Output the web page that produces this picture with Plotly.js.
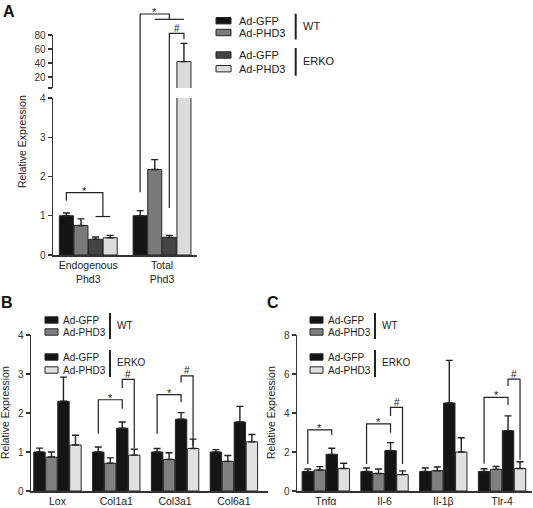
<!DOCTYPE html>
<html><head><meta charset="utf-8">
<script src="https://cdn.plot.ly/plotly-3.0.1.min.js"></script>
<style>body{margin:0;background:#fff}#chart{width:533px;height:508px}</style>
</head><body><div id="chart"></div>
<script>
// ---------------- DATA ----------------
const seriesNames = ['Ad-GFP', 'Ad-PHD3', 'Ad-GFP', 'Ad-PHD3'];
const groupNames = ['WT', 'ERKO'];

// Panel A
const catsA = ['Endogenous<br>Phd3', 'Total<br>Phd3'];
const aWtGfp = [1.00, 1.00];   const aWtGfpErr = [0.07, 0.13];
const aWtPhd3 = [0.75, 2.18];  const aWtPhd3Err = [0.17, 0.25];
const aKoGfp = [0.40, 0.45];   const aKoGfpErr = [0.06, 0.05];
const aKoPhd3 = [0.44, 42];    const aKoPhd3Err = [0.06, 26];

// Panel B
const catsB = ['Lox', 'Col1a1', 'Col3a1', 'Col6a1'];
const bWtGfp = [1.00, 1.00, 1.00, 1.00];  const bWtGfpErr = [0.10, 0.13, 0.09, 0.06];
const bWtPhd3 = [0.87, 0.71, 0.81, 0.76]; const bWtPhd3Err = [0.13, 0.14, 0.17, 0.15];
const bKoGfp = [2.30, 1.61, 1.84, 1.77];  const bKoGfpErr = [0.62, 0.16, 0.17, 0.40];
const bKoPhd3 = [1.18, 0.92, 1.09, 1.26]; const bKoPhd3Err = [0.25, 0.15, 0.24, 0.19];

// Panel C
const catsC = ['Tnf\u03b1', 'Il-6', 'Il-1\u03b2', 'Tlr-4'];
const cWtGfp = [1.00, 1.00, 1.00, 1.00];  const cWtGfpErr = [0.13, 0.18, 0.18, 0.14];
const cWtPhd3 = [1.08, 0.90, 1.04, 1.11]; const cWtPhd3Err = [0.17, 0.23, 0.19, 0.15];
const cKoGfp = [1.88, 2.07, 4.51, 3.09];  const cKoGfpErr = [0.31, 0.41, 2.19, 0.76];
const cKoPhd3 = [1.15, 0.84, 2.00, 1.15]; const cKoPhd3Err = [0.27, 0.19, 0.73, 0.35];

// significance brackets: legs = bar slots (0..3), y = [left leg bottom, top, right leg bottom]
const sigA = [
  {cat: 0, legs: [0, 2.5], y: [1.38, 1.59, 0.98], T: [2, 3], mark: '*'},
  {cat: 1, legs: [0, 2], y: [1.6, 110, 102.4], T: [1, 3], mark: '*'},
  {cat: 1, legs: [2, 3], y: [1.2, 82.4, 73.9], mark: '#'}
];
const sigB = [
  {cat: 1, legs: [0, 2], y: [1.47, 2.34, 2.11], mark: '*'},
  {cat: 1, legs: [2, 3], y: [2.64, 2.86, 1.10], mark: '#'},
  {cat: 2, legs: [0, 2], y: [1.47, 2.47, 2.28], mark: '*'},
  {cat: 2, legs: [2, 3], y: [2.78, 2.95, 1.17], mark: '#'}
];
const sigC = [
  {cat: 0, legs: [0, 2], y: [1.38, 3.13, 2.87], mark: '*'},
  {cat: 1, legs: [0, 2], y: [1.38, 3.44, 2.99], mark: '*'},
  {cat: 1, legs: [2, 3], y: [3.85, 4.29, 1.38], mark: '#'},
  {cat: 3, legs: [0, 2], y: [1.40, 4.80, 4.41], mark: '*'},
  {cat: 3, legs: [2, 3], y: [5.38, 5.74, 1.60], mark: '#'}
];

// ---------------- STYLE / LAYOUT ----------------
const W = 533, H = 508;
const FONT = 'Liberation Sans, Arial, sans-serif';
const INK = '#222';
const colorsA = ['#141414', '#7a7a7a', '#444444', '#dcdcdc'];
const colorsBC = ['#141414', '#808080', '#141414', '#e0e0e0'];

const G = {
  A: {x0: 53, x1: 197, xr: [-0.478, 1.474], lo: {p0: 255, p1: 98, r: [0, 4]}, hi: {p0: 88, p1: 35, r: [4.3, 80]}, slot: 0.198, bw: 0.19},
  B: {x0: 31, x1: 268, xr: [-0.45, 3.58], lo: {p0: 491, p1: 335, r: [0, 4]}, slot: 0.204, bw: 0.194},
  C: {x0: 297, x1: 532, xr: [-0.49, 3.51], lo: {p0: 491, p1: 335, r: [0, 8]}, slot: 0.204, bw: 0.194}
};
const pxX = x => x / W, pxY = y => 1 - y / H;
function xPx(P, cat, slot) {
  const g = G[P]; const v = cat + (slot - 1.5) * g.slot;
  return g.x0 + (v - g.xr[0]) / (g.xr[1] - g.xr[0]) * (g.x1 - g.x0);
}
function yPx(P, v) {
  const g = G[P]; const s = (g.hi && v > g.lo.r[1]) ? g.hi : g.lo;
  return s.p0 + (v - s.r[0]) / (s.r[1] - s.r[0]) * (s.p1 - s.p0);
}

const traces = [];
function addBars(P, vals, errs, colors, xa, ya) {
  const g = G[P];
  vals.forEach((v, i) => {
    traces.push({
      type: 'bar', x: v.map((_, k) => k), y: v, xaxis: xa, yaxis: ya,
      width: g.bw, offset: (i - 2) * g.slot + (g.slot - g.bw) / 2,
      marker: {color: colors[i], line: {color: '#262626', width: 1}},
      error_y: {type: 'data', symmetric: false, array: errs[i], arrayminus: v.map(() => 0),
                color: INK, thickness: 1.4, width: 3.5},
      showlegend: false, hoverinfo: 'skip', name: seriesNames[i] + ' ' + groupNames[i < 2 ? 0 : 1]
    });
  });
}
const valsA = [aWtGfp, aWtPhd3, aKoGfp, aKoPhd3], errsA = [aWtGfpErr, aWtPhd3Err, aKoGfpErr, aKoPhd3Err];
addBars('A', valsA, errsA, colorsA, 'x', 'y');
addBars('A', valsA, errsA, colorsA, 'x', 'y2');
addBars('B', [bWtGfp, bWtPhd3, bKoGfp, bKoPhd3], [bWtGfpErr, bWtPhd3Err, bKoGfpErr, bKoPhd3Err], colorsBC, 'x2', 'y3');
addBars('C', [cWtGfp, cWtPhd3, cKoGfp, cKoPhd3], [cWtGfpErr, cWtPhd3Err, cKoGfpErr, cKoPhd3Err], colorsBC, 'x3', 'y4');

const shapes = [], annotations = [];
const tickFont = {family: FONT, size: 10, color: '#333'};
function xAxis(P, cats, anchor) {
  const g = G[P];
  return {domain: [g.x0 / W, g.x1 / W], range: g.xr, anchor: anchor, showline: true, linecolor: '#333', linewidth: 1.5,
          ticks: '', tickvals: cats.map((_, k) => k), ticktext: cats, tickfont: {family: FONT, size: 10.5, color: '#222'},
          showgrid: false, zeroline: false, fixedrange: true};
}
function yAxis(seg, anchor, tickvals, ticktext) {
  return {domain: [1 - seg.p0 / H, 1 - seg.p1 / H], range: seg.r, anchor: anchor, showline: true, linecolor: '#333',
          linewidth: 1.5, ticks: 'outside', ticklen: 4, tickwidth: 1.4, tickcolor: '#333',
          tickvals: tickvals, ticktext: ticktext, tickfont: tickFont, showgrid: false, zeroline: false, fixedrange: true};
}

function bracket(P, s) {
  const xl = xPx(P, s.cat, s.legs[0]), xr = xPx(P, s.cat, s.legs[1]);
  const yl = yPx(P, s.y[0]), yt = yPx(P, s.y[1]), yr = yPx(P, s.y[2]);
  shapes.push({type: 'path', xref: 'paper', yref: 'paper', line: {color: INK, width: 1.2},
    path: `M${pxX(xl)},${pxY(yl)} L${pxX(xl)},${pxY(yt)} L${pxX(xr)},${pxY(yt)} L${pxX(xr)},${pxY(yr)}`});
  if (s.T) {
    const a = xPx(P, s.cat, s.T[0]), b = xPx(P, s.cat, s.T[1]);
    shapes.push({type: 'line', xref: 'paper', yref: 'paper', x0: pxX(a), x1: pxX(b), y0: pxY(yr), y1: pxY(yr),
                 line: {color: INK, width: 1.2}});
  }
  annotations.push({xref: 'paper', yref: 'paper', x: pxX((xl + xr) / 2), y: pxY(yt + (s.mark === '*' ? 5 : 1.5)),
    xanchor: 'center', yanchor: 'bottom', text: s.mark, showarrow: false, borderpad: 0,
    font: {family: FONT, size: s.mark === '*' ? 11 : 10, color: INK}});
}
sigA.forEach(s => bracket('A', s));
sigB.forEach(s => bracket('B', s));
sigC.forEach(s => bracket('C', s));

// legends
function legend(colors, sq, textX, rows, barX, fs) {
  rows.forEach((ry, i) => {
    shapes.push({type: 'rect', xref: 'paper', yref: 'paper', x0: pxX(sq[0]), x1: pxX(sq[1]),
      y0: pxY(ry - 3.2), y1: pxY(ry + 3.2), fillcolor: colors[i], line: {color: '#262626', width: 1}});
    annotations.push({xref: 'paper', yref: 'paper', x: pxX(textX), y: pxY(ry), xanchor: 'left', yanchor: 'middle',
      text: seriesNames[i], showarrow: false, borderpad: 0, font: {family: FONT, size: fs, color: INK}});
  });
  [0, 1].forEach(gi => {
    const r0 = rows[gi * 2] - 7, r1 = rows[gi * 2 + 1] + 7;
    shapes.push({type: 'line', xref: 'paper', yref: 'paper', x0: pxX(barX), x1: pxX(barX), y0: pxY(r0), y1: pxY(r1),
      line: {color: INK, width: 2}});
    annotations.push({xref: 'paper', yref: 'paper', x: pxX(barX + 6), y: pxY((r0 + r1) / 2 - 1), xanchor: 'left',
      yanchor: 'middle', text: groupNames[gi], showarrow: false, borderpad: 0, font: {family: FONT, size: fs, color: INK}});
  });
}
legend(colorsA, [216, 231], 238, [20.7, 32.5, 55, 68.7], 295.7, 11);
legend(colorsBC, [45, 58], 62, [320, 332, 357, 370], 110, 10);
legend(colorsBC, [310, 323], 327, [320, 332, 357, 370], 375, 10);

// panel letters & axis titles
[['A', 9, 12], ['B', 7, 302], ['C', 273, 302]].forEach(([t, x, y]) => annotations.push({
  xref: 'paper', yref: 'paper', x: pxX(x), y: pxY(y), xanchor: 'center', yanchor: 'middle', text: '<b>' + t + '</b>',
  showarrow: false, font: {family: FONT, size: 16, color: '#111'}}));
[[22, 142], [5, 413], [271, 413]].forEach(([x, y]) => annotations.push({
  xref: 'paper', yref: 'paper', x: pxX(x), y: pxY(y), xanchor: 'center', yanchor: 'middle', textangle: -90,
  text: 'Relative Expression', showarrow: false, font: {family: FONT, size: 10.5, color: '#222'}}));

const layout = {
  width: W, height: H, margin: {l: 0, r: 0, t: 0, b: 0}, paper_bgcolor: '#fff', plot_bgcolor: 'rgba(0,0,0,0)',
  barmode: 'overlay', showlegend: false, font: {family: FONT},
  xaxis: xAxis('A', catsA, 'y'),
  yaxis: yAxis(G.A.lo, 'x', [0, 1, 2, 3, 4], ['0', '1', '2', '3', '4']),
  yaxis2: yAxis(G.A.hi, 'x', [4.3, 20, 40, 60, 80], ['', '20', '40', '60', '80']),
  xaxis2: xAxis('B', catsB, 'y3'),
  yaxis3: yAxis(G.B.lo, 'x2', [0, 1, 2, 3, 4], ['0', '1', '2', '3', '4']),
  xaxis3: xAxis('C', catsC, 'y4'),
  yaxis4: yAxis(G.C.lo, 'x3', [0, 2, 4, 6, 8], ['0', '2', '4', '6', '8']),
  shapes: shapes, annotations: annotations
};
Plotly.newPlot('chart', traces, layout, {staticPlot: true, displayModeBar: false});
</script></body></html>
